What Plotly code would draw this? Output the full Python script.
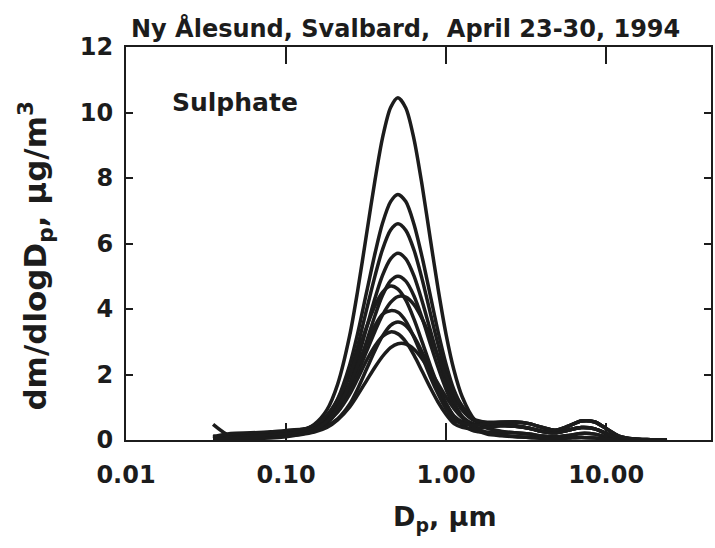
import plotly.graph_objects as go

# Particle diameter grid (um)
dp = [0.035, 0.045, 0.06, 0.08, 0.10, 0.125, 0.15, 0.18, 0.21, 0.25, 0.28, 0.32, 0.36,
      0.40, 0.45, 0.50, 0.56, 0.63, 0.71, 0.80, 0.89, 1.0, 1.12, 1.26, 1.5, 1.8, 2.2,
      2.7, 3.3, 4.0, 4.8, 5.8, 7.0, 8.5, 10.0, 12.0, 15.0, 19.0, 24.0]

# dm/dlogDp (ug/m3), one list per sample
s1 = [0.10, 0.08, 0.10, 0.12, 0.17, 0.29, 0.48, 0.92, 1.70, 3.20, 4.55, 6.36, 7.95, 9.21, 10.15,
      10.45, 10.14, 9.19, 7.74, 6.08, 4.63, 3.22, 2.13, 1.32, 0.63, 0.36, 0.27, 0.22, 0.18, 0.12,
      0.10, 0.14, 0.20, 0.18, 0.10, 0.04, 0.01, 0.0, 0.0]
s2 = [0.48, 0.12, 0.12, 0.15, 0.19, 0.28, 0.40, 0.71, 1.25, 2.30, 3.25, 4.56, 5.71, 6.61, 7.28,
      7.50, 7.28, 6.59, 5.56, 4.37, 3.32, 2.31, 1.53, 1.02, 0.60, 0.48, 0.45, 0.42, 0.36, 0.26,
      0.22, 0.30, 0.38, 0.34, 0.20, 0.07, 0.02, 0.0, 0.0]
s3 = [0.05, 0.12, 0.18, 0.20, 0.23, 0.31, 0.40, 0.64, 1.11, 2.00, 2.86, 4.02, 5.02, 5.81, 6.41,
      6.60, 6.40, 5.80, 4.89, 3.84, 2.92, 2.03, 1.35, 0.91, 0.59, 0.54, 0.55, 0.55, 0.50, 0.38,
      0.30, 0.42, 0.58, 0.55, 0.35, 0.12, 0.03, 0.01, 0.0]
s4 = [0.12, 0.05, 0.08, 0.10, 0.13, 0.20, 0.30, 0.52, 0.92, 1.72, 2.46, 3.46, 4.34, 5.02, 5.53,
      5.70, 5.53, 5.01, 4.22, 3.32, 2.53, 1.76, 1.16, 0.72, 0.34, 0.18, 0.13, 0.10, 0.08, 0.05,
      0.04, 0.06, 0.08, 0.06, 0.03, 0.01, 0.0, 0.0, 0.0]
s5 = [0.06, 0.15, 0.20, 0.22, 0.26, 0.32, 0.39, 0.55, 0.87, 1.52, 2.17, 3.04, 3.81, 4.41, 4.86,
      5.00, 4.85, 4.40, 3.71, 2.91, 2.22, 1.54, 1.02, 0.71, 0.48, 0.44, 0.44, 0.42, 0.36, 0.26,
      0.22, 0.30, 0.38, 0.34, 0.20, 0.07, 0.02, 0.0, 0.0]
s6 = [0.04, 0.10, 0.15, 0.18, 0.22, 0.31, 0.45, 0.76, 1.23, 2.00, 2.66, 3.48, 4.11, 4.51, 4.70,
      4.61, 4.27, 3.69, 2.98, 2.25, 1.65, 1.11, 0.71, 0.47, 0.27, 0.24, 0.23, 0.22, 0.18, 0.12,
      0.10, 0.14, 0.20, 0.18, 0.10, 0.04, 0.01, 0.0, 0.0]
s7 = [0.08, 0.12, 0.10, 0.12, 0.17, 0.26, 0.36, 0.57, 0.91, 1.51, 2.04, 2.73, 3.33, 3.81, 4.20,
      4.38, 4.36, 4.13, 3.69, 3.12, 2.56, 1.96, 1.44, 1.04, 0.63, 0.53, 0.48, 0.44, 0.36, 0.26,
      0.22, 0.30, 0.38, 0.34, 0.20, 0.07, 0.02, 0.0, 0.0]
s8 = [0.10, 0.20, 0.22, 0.25, 0.29, 0.33, 0.35, 0.45, 0.65, 1.10, 1.56, 2.19, 2.74, 3.17, 3.50,
      3.60, 3.49, 3.16, 2.67, 2.10, 1.59, 1.11, 0.73, 0.56, 0.48, 0.51, 0.54, 0.55, 0.50, 0.38,
      0.30, 0.42, 0.58, 0.55, 0.35, 0.12, 0.03, 0.01, 0.0]
s9 = [0.03, 0.05, 0.08, 0.10, 0.13, 0.17, 0.24, 0.38, 0.61, 1.01, 1.37, 1.83, 2.23, 2.55, 2.82,
      2.94, 2.93, 2.77, 2.47, 2.09, 1.72, 1.31, 0.96, 0.68, 0.40, 0.23, 0.15, 0.11, 0.08, 0.05,
      0.04, 0.06, 0.08, 0.06, 0.03, 0.01, 0.0, 0.0, 0.0]
s10 = [0.06, 0.08, 0.12, 0.15, 0.19, 0.26, 0.35, 0.55, 0.85, 1.40, 1.87, 2.45, 2.88, 3.16, 3.30,
       3.24, 3.00, 2.59, 2.09, 1.58, 1.16, 0.78, 0.50, 0.39, 0.34, 0.39, 0.43, 0.42, 0.36, 0.26,
       0.22, 0.30, 0.38, 0.34, 0.20, 0.07, 0.02, 0.0, 0.0]
s11 = [0.02, 0.04, 0.05, 0.06, 0.10, 0.18, 0.29, 0.57, 0.98, 1.70, 2.27, 2.96, 3.50, 3.84, 3.95,
       3.90, 3.63, 3.14, 2.54, 1.91, 1.41, 0.94, 0.60, 0.51, 0.44, 0.50, 0.53, 0.55, 0.50, 0.38,
       0.30, 0.42, 0.58, 0.55, 0.35, 0.12, 0.03, 0.01, 0.0]

series = [s1, s2, s3, s4, s5, s6, s7, s8, s9, s10, s11]

x_tick_vals = [0.01, 0.1, 1, 10]
x_tick_text = ["0.01", "0.10", "1.00", "10.00"]
y_tick_vals = [0, 2, 4, 6, 8, 10, 12]

FONT = "DejaVu Sans, Liberation Sans, Arial, sans-serif"
INK = "#1c1c1c"

fig = go.Figure()
for s in series:
    fig.add_trace(go.Scatter(x=dp, y=s, mode="lines",
                             line=dict(color=INK, width=3.5, shape="spline", smoothing=0.8),
                             showlegend=False, hoverinfo="skip"))

fig.update_layout(
    width=715, height=548,
    margin=dict(l=126, r=2, t=47, b=108),
    paper_bgcolor="white", plot_bgcolor="white",
    font=dict(family=FONT, color=INK),
    xaxis=dict(type="log", range=[-2, 1.655], tickvals=x_tick_vals, ticktext=x_tick_text,
               ticks="inside", ticklen=17, tickwidth=1.5, tickcolor=INK,
               showline=True, linecolor=INK, linewidth=2, mirror="ticks",
               showgrid=False, zeroline=False, ticklabelstandoff=12,
               tickfont=dict(size=24, family=FONT, color=INK, weight="bold")),
    yaxis=dict(range=[0, 12], tickvals=y_tick_vals, ticks="inside", ticklen=7,
               tickwidth=1.5, tickcolor=INK,
               showline=True, linecolor=INK, linewidth=2, mirror="ticks",
               showgrid=False, zeroline=False, ticklabelstandoff=6,
               tickfont=dict(size=24, family=FONT, color=INK, weight="bold")),
)

# paper coords: x 126..713 px, y 440..47 px
fig.add_annotation(text="Ny Ålesund, Svalbard,  April 23-30, 1994", xref="paper", yref="paper",
                   x=0.478, y=1.048, xanchor="center", yanchor="middle", showarrow=False,
                   font=dict(size=24, family=FONT, color=INK, weight="bold"))
fig.add_annotation(text="Sulphate", xref="paper", yref="paper",
                   x=0.075, y=0.858, xanchor="left", yanchor="middle", showarrow=False,
                   font=dict(size=25, family=FONT, color=INK, weight="bold"))
fig.add_annotation(text="dm/dlogD<sub>p</sub>, µg/m<sup>3</sup>", xref="paper", yref="paper",
                   x=-0.155, y=0.47, xanchor="center", yanchor="middle", showarrow=False,
                   textangle=-90,
                   font=dict(size=31, family=FONT, color=INK, weight="bold"))
fig.add_annotation(text="D<sub>p</sub>, µm", xref="paper", yref="paper",
                   x=0.545, y=-0.2, xanchor="center", yanchor="middle", showarrow=False,
                   font=dict(size=27, family=FONT, color=INK, weight="bold"))

fig.write_html("out.html")
